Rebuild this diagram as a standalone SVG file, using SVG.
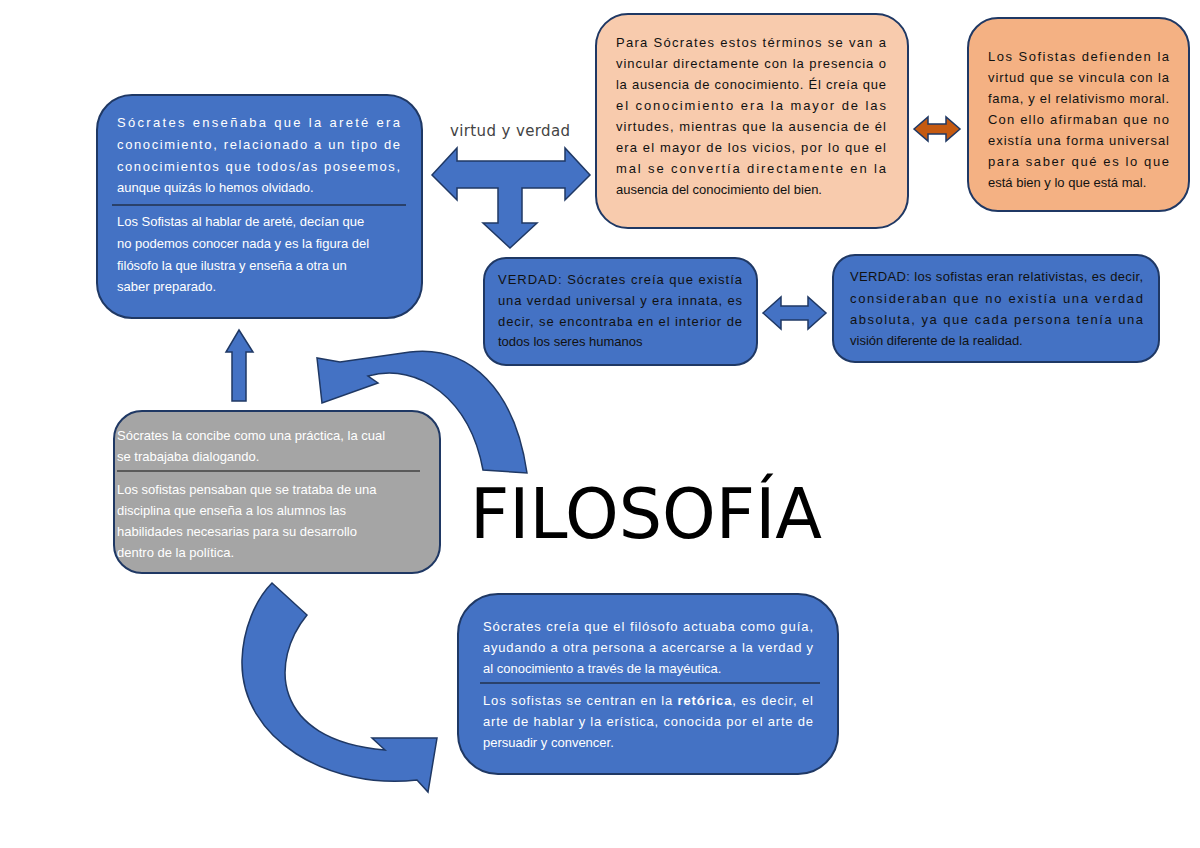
<svg xmlns="http://www.w3.org/2000/svg" width="1200" height="848" viewBox="0 0 1200 848">
<style>
.b{fill:#4472C4;stroke:#1F3864;stroke-width:2}
.p{fill:#F8CBAD;stroke:#1F3864;stroke-width:2}
.o{fill:#F4B183;stroke:#1F3864;stroke-width:2}
.g{fill:#A5A5A5;stroke:#1F3864;stroke-width:2}
.a{fill:#4472C4;stroke:#1F3864;stroke-width:1.5}
.t{font-family:"Liberation Sans",Arial,sans-serif;font-size:13px;fill:#fff}
.k{font-family:"Liberation Sans",Arial,sans-serif;font-size:13px;fill:#111}
.d{stroke:#111;stroke-width:1.2}
</style>
<rect width="1200" height="848" fill="#fff"/>
<g id="connectors">
<path class="a" d="M432,175 L457,148 L457,161 L565,161 L565,148 L590,175 L565,200 L565,188 L522,188 L522,223 L537,223 L510,248 L483,223 L498,223 L498,188 L457,188 L457,200 Z"/>
<path d="M914,129 L928,117 L928,124 L946,124 L946,117 L960,129 L946,141 L946,134 L928,134 L928,141 Z" fill="#C55A11" stroke="#1F3864" stroke-width="1.5"/>
<path class="a" d="M763,313 L781,297 L781,306 L808,306 L808,297 L826,313 L808,329 L808,320 L781,320 L781,329 Z"/>
<path class="a" d="M239,330 L253,352 L246,352 L246,401 L232,401 L232,352 L226,352 Z"/>
<path class="a" d="M527,473 C 515,390 470,345 410,352 L 340,362 L 317,358 L 322,403 L 378,383 L 368,376 C 420,362 470,400 483,470 Z"/>
<path class="a" d="M272,583 L307,615 C 270,660 270,740 385,750 L372,738 L437,738 L428,792 L417,780 C 330,790 240,740 242,660 C 243,630 255,600 272,583 Z"/>
</g>
<text x="450" y="136" font-family="DejaVu Sans,sans-serif" font-size="15" fill="#444" textLength="120">virtud y verdad</text>
<g id="n1">
<rect class="b" x="97" y="95" width="325" height="223" rx="35"/>
<line class="d" x1="112" y1="205" x2="406" y2="205"/>
<text class="t" x="117" y="127" textLength="283" lengthAdjust="spacing">Sócrates enseñaba que la areté era</text>
<text class="t" x="117" y="149" textLength="283" lengthAdjust="spacing">conocimiento, relacionado a un tipo de</text>
<text class="t" x="117" y="171" textLength="283" lengthAdjust="spacing">conocimientos que todos/as poseemos,</text>
<text class="t" x="117" y="192">aunque quizás lo hemos olvidado.</text>
<text class="t" x="117" y="226">Los Sofistas al hablar de areté, decían que</text>
<text class="t" x="117" y="248">no podemos conocer nada y es la figura del</text>
<text class="t" x="117" y="270">filósofo la que ilustra y enseña a otra un</text>
<text class="t" x="117" y="291">saber preparado.</text>
</g>
<g id="n2">
<rect class="p" x="596" y="14" width="312" height="214" rx="32"/>
<text class="k" x="616" y="47" textLength="270" lengthAdjust="spacing">Para Sócrates estos términos se van a</text>
<text class="k" x="616" y="68" textLength="270" lengthAdjust="spacing">vincular directamente con la presencia o</text>
<text class="k" x="616" y="89" textLength="270" lengthAdjust="spacing">la ausencia de conocimiento. Él creía que</text>
<text class="k" x="616" y="110" textLength="270" lengthAdjust="spacing">el conocimiento era la mayor de las</text>
<text class="k" x="616" y="131" textLength="270" lengthAdjust="spacing">virtudes, mientras que la ausencia de él</text>
<text class="k" x="616" y="152" textLength="270" lengthAdjust="spacing">era el mayor de los vicios, por lo que el</text>
<text class="k" x="616" y="173" textLength="270" lengthAdjust="spacing">mal se convertía directamente en la</text>
<text class="k" x="616" y="194">ausencia del conocimiento del bien.</text>
</g>
<g id="n3">
<rect class="o" x="968" y="18" width="221" height="193" rx="30"/>
<text class="k" x="988" y="61" textLength="181" lengthAdjust="spacing">Los Sofistas defienden la</text>
<text class="k" x="988" y="82" textLength="181" lengthAdjust="spacing">virtud que se vincula con la</text>
<text class="k" x="988" y="103" textLength="181" lengthAdjust="spacing">fama, y el relativismo moral.</text>
<text class="k" x="988" y="124" textLength="181" lengthAdjust="spacing">Con ello afirmaban que no</text>
<text class="k" x="988" y="145" textLength="181" lengthAdjust="spacing">existía una forma universal</text>
<text class="k" x="988" y="166" textLength="181" lengthAdjust="spacing">para saber qué es lo que</text>
<text class="k" x="988" y="187">está bien y lo que está mal.</text>
</g>
<g id="n4">
<rect class="b" x="484" y="258" width="273" height="107" rx="22"/>
<text class="k" x="498" y="284" textLength="244" lengthAdjust="spacing">VERDAD: Sócrates creía que existía</text>
<text class="k" x="498" y="305" textLength="244" lengthAdjust="spacing">una verdad universal y era innata, es</text>
<text class="k" x="498" y="326" textLength="244" lengthAdjust="spacing">decir, se encontraba en el interior de</text>
<text class="k" x="498" y="346">todos los seres humanos</text>
</g>
<g id="n5">
<rect class="b" x="833" y="255" width="326" height="107" rx="22"/>
<text class="k" x="850" y="281" textLength="293" lengthAdjust="spacing">VERDAD: los sofistas eran relativistas, es decir,</text>
<text class="k" x="850" y="303" textLength="293" lengthAdjust="spacing">consideraban que no existía una verdad</text>
<text class="k" x="850" y="324" textLength="293" lengthAdjust="spacing">absoluta, ya que cada persona tenía una</text>
<text class="k" x="850" y="345">visión diferente de la realidad.</text>
</g>
<g id="n6">
<rect class="g" x="114" y="411" width="326" height="162" rx="28"/>
<line class="d" x1="117" y1="471" x2="420" y2="471"/>
<text class="t" x="117" y="440">Sócrates la concibe como una práctica, la cual</text>
<text class="t" x="117" y="461">se trabajaba dialogando.</text>
<text class="t" x="117" y="494">Los sofistas pensaban que se trataba de una</text>
<text class="t" x="117" y="515">disciplina que enseña a los alumnos las</text>
<text class="t" x="117" y="536">habilidades necesarias para su desarrollo</text>
<text class="t" x="117" y="557">dentro de la política.</text>
</g>
<text x="470" y="538" font-family="DejaVu Sans,sans-serif" font-size="70" fill="#000" textLength="352" lengthAdjust="spacingAndGlyphs">FILOSOFÍA</text>
<g id="n7">
<rect class="b" x="458" y="594" width="380" height="180" rx="40"/>
<line class="d" x1="480" y1="683" x2="820" y2="683"/>
<text class="t" x="483" y="631" textLength="330" lengthAdjust="spacing">Sócrates creía que el filósofo actuaba como guía,</text>
<text class="t" x="483" y="652" textLength="330" lengthAdjust="spacing">ayudando a otra persona a acercarse a la verdad y</text>
<text class="t" x="483" y="673">al conocimiento a través de la mayéutica.</text>
<text class="t" x="483" y="705" textLength="330" lengthAdjust="spacing">Los sofistas se centran en la <tspan font-weight="bold">retórica</tspan>, es decir, el</text>
<text class="t" x="483" y="726" textLength="330" lengthAdjust="spacing">arte de hablar y la erística, conocida por el arte de</text>
<text class="t" x="483" y="747">persuadir y convencer.</text>
</g>
</svg>
